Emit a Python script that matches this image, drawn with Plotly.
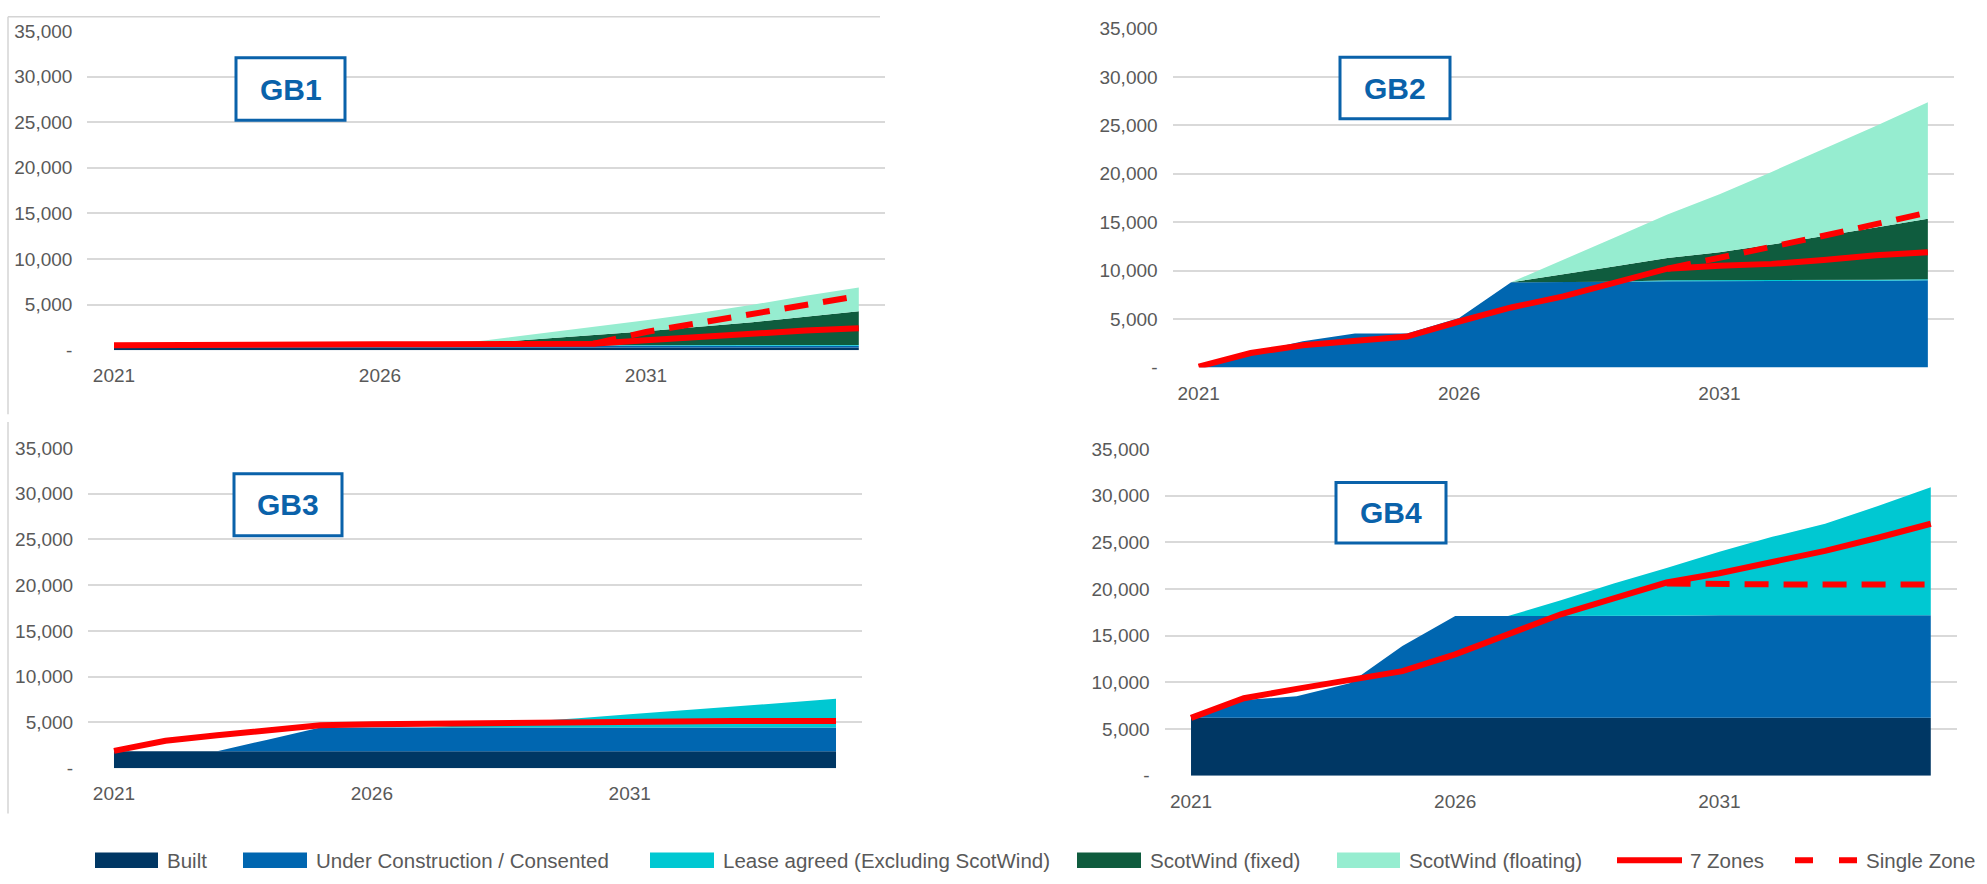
import plotly.graph_objects as go

W, H = 1987, 884

# ---------------- data ----------------
years = list(range(2021, 2036))
x_ticks = [2021, 2026, 2031]
y_ticks = [0, 5000, 10000, 15000, 20000, 25000, 30000, 35000]
y_ticktext = ["-", "5,000", "10,000", "15,000", "20,000", "25,000", "30,000", "35,000"]

series_names = ["Built", "Under Construction / Consented", "Lease agreed (Excluding ScotWind)",
                "ScotWind (fixed)", "ScotWind (floating)", "7 Zones", "Single Zone"]

# GB1
gb1_built = [300] * 15
gb1_uc = [200] * 15
gb1_lease = [0, 0, 0, 0, 0, 0, 0, 0, 0, 80, 80, 80, 80, 80, 80]
gb1_fixed = [0, 0, 0, 0, 0, 0, 0, 300, 700, 1100, 1500, 2000, 2500, 3100, 3700]
gb1_float = [0, 0, 0, 0, 0, 0, 0, 300, 600, 900, 1200, 1500, 1900, 2300, 2600]
gb1_7z = [550, 600, 620, 640, 650, 650, 650, 650, 650, 700, 1100, 1500, 1850, 2150, 2400]
gb1_single = [None] * 9 + [700, 2000, 3000, 4000, 5000, 5950]

# GB2
gb2_built = [0] * 15
gb2_uc = [0, 1500, 2700, 3500, 3500, 5100, 8800, 8800, 8850, 8900, 8900, 8900, 8950, 8950, 9000]
gb2_lease = [0, 0, 0, 0, 0, 0, 0, 0, 0, 100, 100, 100, 100, 100, 100]
gb2_fixed = [0, 0, 0, 0, 0, 0, 0, 800, 1600, 2300, 2900, 3700, 4500, 5400, 6250]
gb2_float = [0, 0, 0, 0, 0, 0, 0, 1500, 3000, 4500, 6000, 7500, 9000, 10500, 12050]
gb2_7z = [100, 1500, 2300, 2800, 3200, 4750, 6200, 7350, 8700, 10200, 10500, 10700, 11100, 11600, 11900]
gb2_single = [None] * 9 + [10200, 11300, 12500, 13600, 14800, 16000]

# GB3
gb3_built = [1850] * 15
gb3_uc = [0, 0, 0, 1300, 2600, 2600, 2600, 2600, 2600, 2600, 2600, 2600, 2600, 2600, 2600]
gb3_lease = [0, 0, 0, 0, 0, 0, 0, 300, 650, 1000, 1450, 1850, 2250, 2700, 3150]
gb3_fixed = [0] * 15
gb3_float = [0] * 15
gb3_7z = [1900, 3000, 3600, 4100, 4700, 4800, 4850, 5000, 5050, 5150, 5150, 5150, 5150, 5150, 5150]
gb3_single = [None] * 15

# GB4
gb4_built = [6200] * 15
gb4_uc = [0, 1900, 2300, 3700, 7700, 10900, 10900, 10900, 10950, 10950, 11000, 11000, 11000, 11000, 11000]
gb4_lease = [0, 0, 0, 0, 0, 0, 0, 1700, 3450, 5100, 6800, 8400, 9800, 11700, 13700]
gb4_fixed = [0] * 15
gb4_float = [0] * 15
gb4_7z = [6200, 8300, 9300, 10300, 11200, 13000, 15200, 17300, 19000, 20700, 21700, 22900, 24100, 25500, 27000]
gb4_single = [None] * 9 + [20600, 20500, 20500, 20500, 20500, 20500]

panel_labels = ["GB1", "GB2", "GB3", "GB4"]

# ---------------- styles ----------------
area_colors = ["#003764", "#0066B0", "#00C8D2", "#0F5C3E", "#96EDD0"]
red = "#FF0000"
label_blue = "#0A62AA"
grid_col = "#D9D9D9"
tick_col = "#595959"
FONT = "Liberation Sans, Arial, sans-serif"

panels = [
    (gb1_built, gb1_uc, gb1_lease, gb1_fixed, gb1_float, gb1_7z, gb1_single),
    (gb2_built, gb2_uc, gb2_lease, gb2_fixed, gb2_float, gb2_7z, gb2_single),
    (gb3_built, gb3_uc, gb3_lease, gb3_fixed, gb3_float, gb3_7z, gb3_single),
    (gb4_built, gb4_uc, gb4_lease, gb4_fixed, gb4_float, gb4_7z, gb4_single),
]

# plot areas in pixels: (left, right, top, bottom)
boxes_px = [
    (87.4, 885.4, 21.5, 348.5),
    (1172.6, 1953.9, 19.0, 366.2),
    (88.2, 861.8, 448.5, 776.7),
    (1164.6, 1957.2, 449.8, 784.3),
]
# GB label boxes in pixels: (x0, x1, y0, y1)
label_px = [
    (236, 345, 49, 113),
    (1340, 1450, 48.5, 111.4),
    (234, 342, 475, 538.5),
    (1336, 1446, 484, 546),
]


def px(x):
    return x / W


def py(y):
    return 1 - y / H


fig = go.Figure()
shapes = []
annotations = []
layout_axes = {}

for i, data in enumerate(panels):
    n = i + 1
    xa = "x" if n == 1 else f"x{n}"
    ya = "y" if n == 1 else f"y{n}"
    for k in range(5):
        fig.add_trace(go.Scatter(
            x=years, y=data[k], xaxis=xa, yaxis=ya, mode="lines",
            stackgroup=f"g{n}", line=dict(width=0), fillcolor=area_colors[k],
            name=series_names[k], showlegend=False, hoverinfo="skip"))
    fig.add_trace(go.Scatter(
        x=years, y=data[5], xaxis=xa, yaxis=ya, mode="lines",
        line=dict(color=red, width=6), name=series_names[5], showlegend=False))
    if any(v is not None for v in data[6]):
        fig.add_trace(go.Scatter(
            x=years, y=data[6], xaxis=xa, yaxis=ya, mode="lines",
            line=dict(color=red, width=6, dash="24px,15px"), name=series_names[6],
            showlegend=False))

    l, r, t, b = boxes_px[i]
    xkey = "xaxis" if n == 1 else f"xaxis{n}"
    ykey = "yaxis" if n == 1 else f"yaxis{n}"
    layout_axes[xkey] = dict(
        domain=[px(l), px(r)], range=[2020.5, 2035.5], anchor=ya,
        tickmode="array", tickvals=x_ticks, ticktext=[str(v) for v in x_ticks],
        showgrid=False, zeroline=False, showline=False, ticks="",
        ticklabelstandoff=12, tickfont=dict(family=FONT, size=19, color=tick_col))
    layout_axes[ykey] = dict(
        domain=[py(b), py(t)], range=[0, 35000], anchor=xa,
        tickmode="array", tickvals=y_ticks, ticktext=y_ticktext,
        showgrid=True, gridcolor=grid_col, gridwidth=2, zeroline=False, showline=False,
        ticks="", ticklabelstandoff=14, tickfont=dict(family=FONT, size=19, color=tick_col))

    x0, x1, y0, y1 = label_px[i]
    shapes.append(dict(type="rect", xref="paper", yref="paper",
                       x0=px(x0), x1=px(x1), y0=py(y1), y1=py(y0),
                       line=dict(color=label_blue, width=3), fillcolor="white", layer="above"))
    annotations.append(dict(xref="paper", yref="paper", x=px((x0 + x1) / 2), y=py((y0 + y1) / 2),
                            text=f"<b>{panel_labels[i]}</b>", showarrow=False,
                            xanchor="center", yanchor="middle",
                            font=dict(family="Liberation Sans Narrow, Liberation Sans, Arial", size=30,
                                      color=label_blue)))

# faint frame lines of the left panels
frame_col = "#D4D4D4"
shapes.append(dict(type="line", xref="paper", yref="paper", x0=px(8), x1=px(880), y0=py(7), y1=py(7),
                   line=dict(color=frame_col, width=1.5)))
shapes.append(dict(type="line", xref="paper", yref="paper", x0=px(8), x1=px(8), y0=py(7), y1=py(414),
                   line=dict(color=frame_col, width=1.5)))
shapes.append(dict(type="line", xref="paper", yref="paper", x0=px(8), x1=px(8), y0=py(422), y1=py(823),
                   line=dict(color=frame_col, width=1.5)))

# ---------------- legend (drawn manually) ----------------
leg_y = 871
leg_items = [
    ("rect", area_colors[0], 95, 158, 165),
    ("rect", area_colors[1], 243, 307, 314),
    ("rect", area_colors[2], 650, 714, 721),
    ("rect", area_colors[3], 1077, 1141, 1148),
    ("rect", area_colors[4], 1337, 1400, 1407),
    ("line", red, 1617, 1682, 1688),
    ("dash", red, 1795, 1857, 1864),
]
for (kind, col, a, bb, tx), name in zip(leg_items, series_names):
    if kind == "rect":
        shapes.append(dict(type="rect", xref="paper", yref="paper", x0=px(a), x1=px(bb),
                           y0=py(leg_y + 8), y1=py(leg_y - 8), line=dict(width=0), fillcolor=col))
    elif kind == "line":
        shapes.append(dict(type="line", xref="paper", yref="paper", x0=px(a), x1=px(bb),
                           y0=py(leg_y), y1=py(leg_y), line=dict(color=col, width=6)))
    else:
        shapes.append(dict(type="line", xref="paper", yref="paper", x0=px(a), x1=px(bb),
                           y0=py(leg_y), y1=py(leg_y), line=dict(color=col, width=6, dash="18px,26px")))
    annotations.append(dict(xref="paper", yref="paper", x=px(tx), y=py(leg_y), text=name,
                            showarrow=False, xanchor="left", yanchor="middle",
                            font=dict(family=FONT, size=20.5, color=tick_col)))

fig.update_layout(
    width=W, height=H, autosize=False,
    margin=dict(l=0, r=0, t=0, b=0),
    paper_bgcolor="white", plot_bgcolor="white",
    showlegend=False, shapes=shapes, annotations=annotations,
    **layout_axes)

fig.write_html("out.html")
